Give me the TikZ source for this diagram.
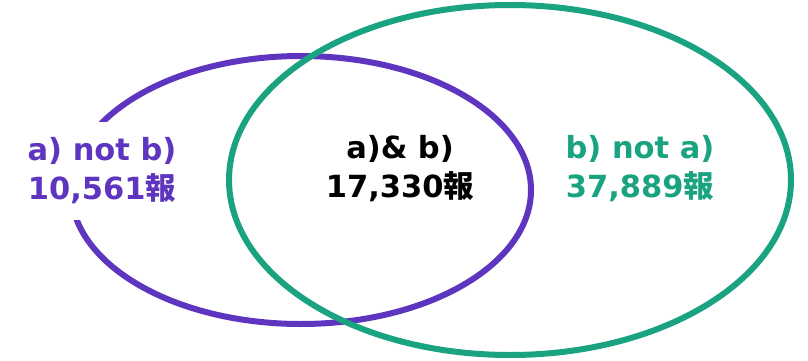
\documentclass[tikz,border=0pt]{standalone}
\usepackage{fontspec}
\setmainfont{DejaVu Sans}
\newfontfamily\jp{Noto Sans CJK JP}
\definecolor{vpurple}{HTML}{5E35BE}
\definecolor{vgreen}{HTML}{1AA380}
\begin{document}
\begin{tikzpicture}[x=1pt,y=-1pt,
  setline/.style={line width=6pt},
  lbl/.style={align=center,font=\fontsize{30.5}{39}\selectfont\bfseries,inner sep=0pt}]
\useasboundingbox (0,0) rectangle (808,361);
\draw[setline,vpurple] (301,190) ellipse [x radius=230pt, y radius=134pt];
\draw[setline,vgreen] (510,180) ellipse [x radius=281pt, y radius=175pt];
\node[lbl,text=vpurple,fill=white,inner xsep=8pt,inner ysep=16pt] (anotb) at (102,171) {a) not b)\\10,561{\jp 報}};
\node[lbl,text=black] (ab) at (400,169) {a)\&~b)\\17,330{\jp 報}};
\node[lbl,text=vgreen] (bnota) at (640,169) {b) not a)\\37,889{\jp 報}};
\end{tikzpicture}
\end{document}
